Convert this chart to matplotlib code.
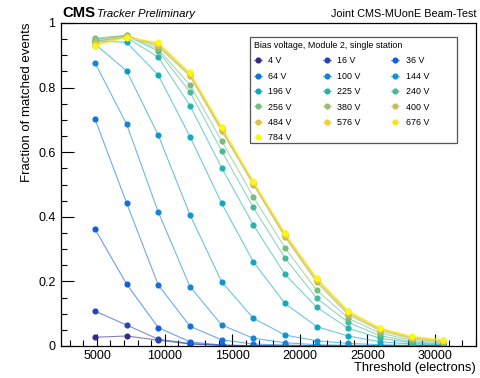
import matplotlib
matplotlib.use("Agg")
import matplotlib.pyplot as plt
from matplotlib.colors import LinearSegmentedColormap
from matplotlib.patches import Rectangle
from matplotlib.ticker import MultipleLocator

plt.rcParams["font.family"] = ["Liberation Sans", "DejaVu Sans"]

# threshold scan points (electrons)
threshold = [4850, 7190, 9530, 11880, 14220, 16560, 18900, 21250, 23590, 25930, 28270, 30610]

bias_voltage = [4, 16, 36, 64, 100, 144, 196, 225, 240, 256, 380, 400, 484, 576, 676, 784]

frac_4v = [0.027, 0.031, 0.018, 0.006, 0.002, 0.001, 0.0, 0.0, 0.0, 0.0, 0.0, 0.0]
frac_16v = [0.108, 0.065, 0.021, 0.008, 0.002, 0.001, 0.0, 0.0, 0.0, 0.0, 0.0, 0.0]
frac_36v = [0.362, 0.192, 0.057, 0.013, 0.003, 0.001, 0.0, 0.0, 0.0, 0.0, 0.0, 0.0]
frac_64v = [0.703, 0.443, 0.189, 0.061, 0.019, 0.006, 0.003, 0.001, 0.0, 0.0, 0.0, 0.0]
frac_100v = [0.877, 0.687, 0.415, 0.184, 0.065, 0.024, 0.010, 0.004, 0.002, 0.001, 0.0, 0.0]
frac_144v = [0.935, 0.852, 0.653, 0.406, 0.199, 0.086, 0.034, 0.016, 0.008, 0.004, 0.002, 0.001]
frac_196v = [0.945, 0.940, 0.839, 0.648, 0.442, 0.261, 0.132, 0.060, 0.031, 0.013, 0.006, 0.003]
frac_225v = [0.945, 0.955, 0.894, 0.744, 0.552, 0.375, 0.222, 0.120, 0.055, 0.024, 0.010, 0.004]
frac_240v = [0.950, 0.960, 0.913, 0.786, 0.604, 0.429, 0.273, 0.148, 0.073, 0.032, 0.013, 0.006]
frac_256v = [0.953, 0.962, 0.919, 0.808, 0.635, 0.462, 0.304, 0.173, 0.086, 0.040, 0.018, 0.009]
frac_380v = [0.947, 0.962, 0.927, 0.835, 0.665, 0.500, 0.337, 0.197, 0.096, 0.047, 0.022, 0.012]
frac_400v = [0.940, 0.960, 0.930, 0.838, 0.669, 0.503, 0.340, 0.200, 0.100, 0.050, 0.025, 0.014]
frac_484v = [0.935, 0.958, 0.935, 0.840, 0.672, 0.505, 0.343, 0.205, 0.104, 0.052, 0.027, 0.016]
frac_576v = [0.932, 0.957, 0.937, 0.843, 0.675, 0.508, 0.347, 0.208, 0.106, 0.054, 0.028, 0.018]
frac_676v = [0.930, 0.956, 0.937, 0.845, 0.677, 0.509, 0.349, 0.210, 0.108, 0.055, 0.029, 0.019]
frac_784v = [0.929, 0.955, 0.940, 0.847, 0.679, 0.510, 0.350, 0.211, 0.109, 0.056, 0.030, 0.020]

series = [frac_4v, frac_16v, frac_36v, frac_64v, frac_100v, frac_144v, frac_196v, frac_225v,
          frac_240v, frac_256v, frac_380v, frac_400v, frac_484v, frac_576v, frac_676v, frac_784v]

# ROOT "bird" palette
bird = LinearSegmentedColormap.from_list("bird", [
    (0.2082, 0.1664, 0.5293), (0.0592, 0.3599, 0.8684), (0.0780, 0.5041, 0.8385),
    (0.0232, 0.6419, 0.7914), (0.1802, 0.7178, 0.6425), (0.5301, 0.7492, 0.4662),
    (0.8186, 0.7328, 0.3499), (0.9956, 0.7862, 0.1968), (0.9764, 0.9832, 0.0539)])

fig = plt.figure(figsize=(4.81, 3.78), dpi=100)
ax = fig.add_axes([61 / 481, 1 - 346 / 378, 415 / 481, 323 / 378])

handles = []
n = len(series)
for i, (v, frac) in enumerate(zip(bias_voltage, series)):
    r, g, b, _ = bird(i / (n - 1))
    h, = ax.plot(threshold, frac, color=(r, g, b, 0.6), lw=0.8,
                 marker="o", ms=3.4, mfc=(r, g, b), mec=(r, g, b),
                 label=f"{v} V")
    handles.append(h)

ax.set_xlim(2340, 33030)
ax.set_ylim(0, 1)
ax.xaxis.set_major_locator(MultipleLocator(5000))
ax.xaxis.set_minor_locator(MultipleLocator(1000))
ax.yaxis.set_major_locator(MultipleLocator(0.2))
ax.yaxis.set_minor_locator(MultipleLocator(0.05))
ax.yaxis.set_major_formatter(matplotlib.ticker.FuncFormatter(lambda y, _: f"{y:g}"))
ax.tick_params(which="both", direction="in", top=False, right=False, labelsize=9)
ax.tick_params(which="major", length=9, width=0.8)
ax.tick_params(which="minor", length=4.5, width=0.8)
ax.tick_params(axis="y", pad=4)
ax.tick_params(axis="x", pad=3)
for s in ax.spines.values():
    s.set_linewidth(0.9)

ax.set_xlabel("Threshold (electrons)", fontsize=9.3, loc="right")
ax.xaxis.set_label_coords(1.0, -0.05)
ax.set_ylabel("Fraction of matched events", fontsize=9.5, loc="top")
ax.yaxis.set_label_coords(-0.067, 1.0)

fig.text(62 / 481, 1 - 17 / 378, "CMS", fontsize=10.7, fontweight="bold")
fig.text(97 / 481, 1 - 17 / 378, "Tracker Preliminary", fontsize=8.2, style="italic")
fig.text(477 / 481, 1 - 17 / 378, "Joint CMS-MUonE Beam-Test", fontsize=7.8, ha="right")

# legend box spans three equal columns, like the ROOT TLegend
box = Rectangle((250 / 481, 1 - 143 / 378), 207 / 481, 106 / 378,
                transform=fig.transFigure, facecolor="white",
                edgecolor="#555555", lw=0.9, zorder=4, clip_on=False)
ax.add_patch(box)
order = [0, 3, 6, 9, 12, 15, 1, 4, 7, 10, 13, 2, 5, 8, 11, 14]
leg = ax.legend([handles[k] for k in order], [handles[k].get_label() for k in order],
                title="Bias voltage, Module 2, single station", alignment="left",
                ncol=3, fontsize=6.4, title_fontsize=6.4, frameon=False,
                loc="upper left", bbox_to_anchor=(250 / 481, 1 - 37 / 378),
                bbox_transform=fig.transFigure, borderpad=0.45, borderaxespad=0,
                handlelength=0.9, handletextpad=0.7, columnspacing=3.5,
                labelspacing=0.72)
leg.set_zorder(6)

fig.savefig("out.png", dpi=100)
